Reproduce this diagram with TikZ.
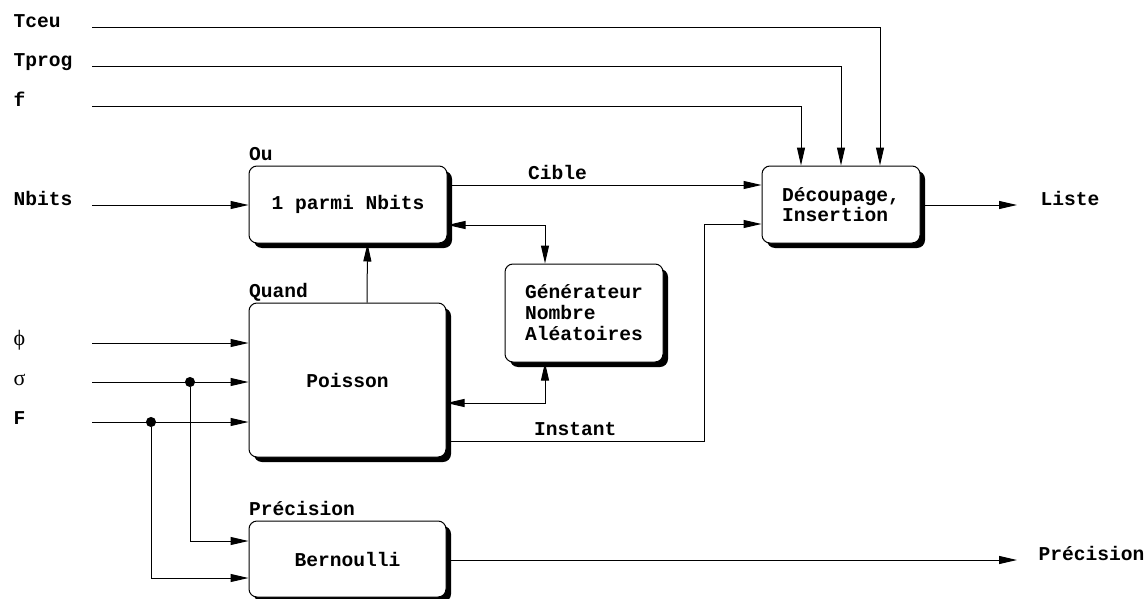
\documentclass[tikz,border=0pt]{standalone}
\usepackage{fontspec}
\setmainfont{Liberation Mono}
\newfontfamily\greekfont{Liberation Serif}
\usetikzlibrary{arrows.meta,shadows,positioning}

\begin{document}
\begin{tikzpicture}
[
	x=0.5pt,y=-0.5pt,
	font=\fontsize{9.8}{10.5}\selectfont\bfseries,
	>={Triangle[length=9pt,width=4pt]},
	line width=0.5pt,
	bloc/.style={draw,fill=white,rounded corners=4pt,align=left,inner sep=0pt,
		drop shadow={shadow xshift=2.5pt,shadow yshift=-2.5pt,fill=black,opacity=1}},
	tag/.style={anchor=base west,inner sep=0pt},
	dot/.style={circle,draw,fill,inner sep=0pt,minimum size=4.5pt}
]
	\useasboundingbox (0,0) rectangle (1145,599);

	% blocs
	\node[bloc,minimum width=99pt,minimum height=38.5pt] (ou) at (348,204.5) {1 parmi Nbits};
	\node[bloc,minimum width=98.5pt,minimum height=77pt] (poisson) at (347.5,380) {Poisson};
	\node[bloc,minimum width=79pt,minimum height=49pt] (gen) at (584,313) {Générateur\\Nombre\\Aléatoires};
	\node[bloc,minimum width=79pt,minimum height=38.5pt,font=\fontsize{9.8}{9.7}\selectfont\bfseries] (dec) at (841,204.5) {Découpage,\\Insertion};
	\node[bloc,minimum width=98.5pt,minimum height=38pt] (bern) at (347.5,559) {Bernoulli};

	% titres des blocs
	\node[tag] (ou-tag) at ([yshift=2.5pt]ou.north west) {Ou};
	\node[tag] (poisson-tag) at ([yshift=2.5pt]poisson.north west) {Quand};
	\node[tag] (bern-tag) at ([yshift=2.5pt]bern.north west) {Précision};

	% entrees
	\node[tag] (tceu) at (13,28) {Tceu};
	\node[tag] (tprog) at (13,67) {Tprog};
	\node[tag] (f) at (13,107) {f};
	\node[tag] (nbits) at (13,205) {Nbits};
	\node[tag,font=\fontsize{11}{12}\greekfont] (phi) at (13,345) {ϕ};
	\node[tag,font=\fontsize{11}{12}\greekfont] (sigma) at (13,385) {σ};
	\node[tag] (F) at (13,424) {F};
	\coordinate (tceu-in) at (92,28);
	\coordinate (tprog-in) at (92,67);
	\coordinate (f-in) at (92,107);
	\coordinate (nbits-in) at (92,205);
	\coordinate (phi-in) at (92,343);
	\coordinate (sigma-in) at (92,382);
	\coordinate (F-in) at (92,422);

	% sorties
	\node[tag] (liste) at (1040,205) {Liste};
	\node[tag] (prec) at (1038,560) {Précision};
	\coordinate (liste-out) at (1017,205);
	\coordinate (prec-out) at (1017,560);

	\draw[->] (tceu-in) -| ([xshift=19.5pt]dec.north);
	\draw[->] (tprog-in) -| (dec.north);
	\draw[->] (f-in) -| ([xshift=-20pt]dec.north);
	\draw[->] (nbits-in) -- (nbits-in -| ou.west);
	\draw[->] (phi-in) -- (phi-in -| poisson.west);
	\draw[->] (sigma-in) -- (sigma-in -| poisson.west);
	\draw[->] (F-in) -- (F-in -| poisson.west);

	\node[dot] (sdot) at (190,382) {};
	\node[dot] (fdot) at (151,422) {};
	\draw[->] (sdot) |- ([yshift=9pt]bern.west);
	\draw[->] (fdot) |- ([yshift=-9.5pt]bern.west);

	% liaisons internes
	\draw[->] ([xshift=9.75pt]poisson.north) -- ([xshift=9.75pt]ou.south);
	\draw[->] ([yshift=9.75pt]ou.east) -- node[pos=0.35,above=-1pt] {Cible} ([yshift=9.75pt]dec.west);
	\draw[<->] ([yshift=-10.25pt]ou.east) -| ([xshift=-19.5pt]gen.north);
	\draw[<->] ([yshift=-11.5pt]poisson.east) -| ([xshift=-19.5pt]gen.south);
	\coordinate (inst-bend) at (704,224);
	\draw[->] ([yshift=-30.5pt]poisson.east) -| node[pos=0.25,above=-1pt] {Instant} (inst-bend) -- ([yshift=-9.75pt]dec.west);

	\draw[->] (dec.east |- liste-out) -- (liste-out);
	\draw[->] (bern.east |- prec-out) -- (prec-out);

\end{tikzpicture}
\end{document}
